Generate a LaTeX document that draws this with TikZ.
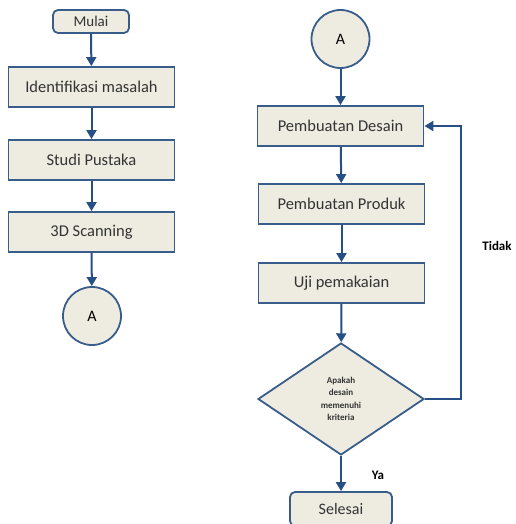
\documentclass[tikz,border=0pt]{standalone}
\usepackage{fontspec}
\setmainfont{Carlito}
\usetikzlibrary{arrows.meta,shapes.geometric}
\definecolor{boxfill}{HTML}{EEECE1}
\definecolor{boxline}{HTML}{385D8A}
\definecolor{arrowblue}{HTML}{264F85}
\tikzset{
  prosesbox/.style={draw=boxline, line width=1.8pt, fill=boxfill, minimum width=166pt, minimum height=40pt, font=\fontsize{16.5}{19}\selectfont, text=black!80},
  terminal/.style={prosesbox, rounded corners=5pt, minimum height=23pt},
  konektor/.style={draw=boxline, line width=1.8pt, fill=boxfill, circle, minimum size=58pt, inner sep=0pt, font=\fontsize{16}{19}\selectfont},
  keputusan/.style={draw=boxline, line width=1.8pt, fill=boxfill, diamond, minimum width=166pt, minimum height=112pt, inner sep=0pt, align=center, font=\fontsize{9}{12.5}\selectfont\bfseries, text=black!80},
  panah/.style={draw=arrowblue, line width=2pt, -{Triangle[width=10pt,length=9pt]}},
  label/.style={font=\fontsize{13}{15}\selectfont\bfseries}
}
\begin{document}
\begin{tikzpicture}[x=1pt,y=-1pt]
  \useasboundingbox (0,0) rectangle (515,524);
  \clip (0,0) rectangle (515,524);

  % kolom kiri
  \node[terminal, minimum width=76pt, font=\fontsize{15}{17}\selectfont] (mulai) at (91,21.5) {Mulai};
  \node[prosesbox] (identifikasi) at (91.5,87) {Identifikasi masalah};
  \node[prosesbox] (studi) at (91.5,160) {Studi Pustaka};
  \node[prosesbox] (scanning) at (91.5,232) {3D Scanning};
  \node[konektor] (akiri) at (92,316) {A};

  \draw[panah] (mulai) -- (identifikasi);
  \draw[panah] (identifikasi) -- (studi);
  \draw[panah] (studi) -- (scanning);
  \draw[panah] (scanning) -- (akiri);

  % kolom kanan
  \node[konektor] (akanan) at (340.5,39) {A};
  \node[prosesbox] (desain) at (340.5,126) {Pembuatan Desain};
  \node[prosesbox] (produk) at (341.5,204) {Pembuatan Produk};
  \node[prosesbox] (uji) at (341.5,283) {Uji pemakaian};
  \node[keputusan] (kriteria) at (341,399) {Apakah\\desain\\memenuhi\\kriteria};
  \node[terminal, minimum width=102pt, minimum height=34pt, font=\fontsize{16}{19}\selectfont] (selesai) at (341,509) {Selesai};
  \coordinate (balik) at (461,399);

  \draw[panah] (akanan) -- (desain);
  \draw[panah] (desain) -- (produk);
  \draw[panah] (produk) -- (uji);
  \draw[panah] (uji) -- (kriteria);
  \draw[panah] (kriteria) -- (selesai);
  \draw[panah] (kriteria.east) -- (balik) |- (desain.east);

  \node[label] (tidak) at (497,246) {Tidak};
  \node[label] (ya) at (378,475) {Ya};
\end{tikzpicture}
\end{document}
